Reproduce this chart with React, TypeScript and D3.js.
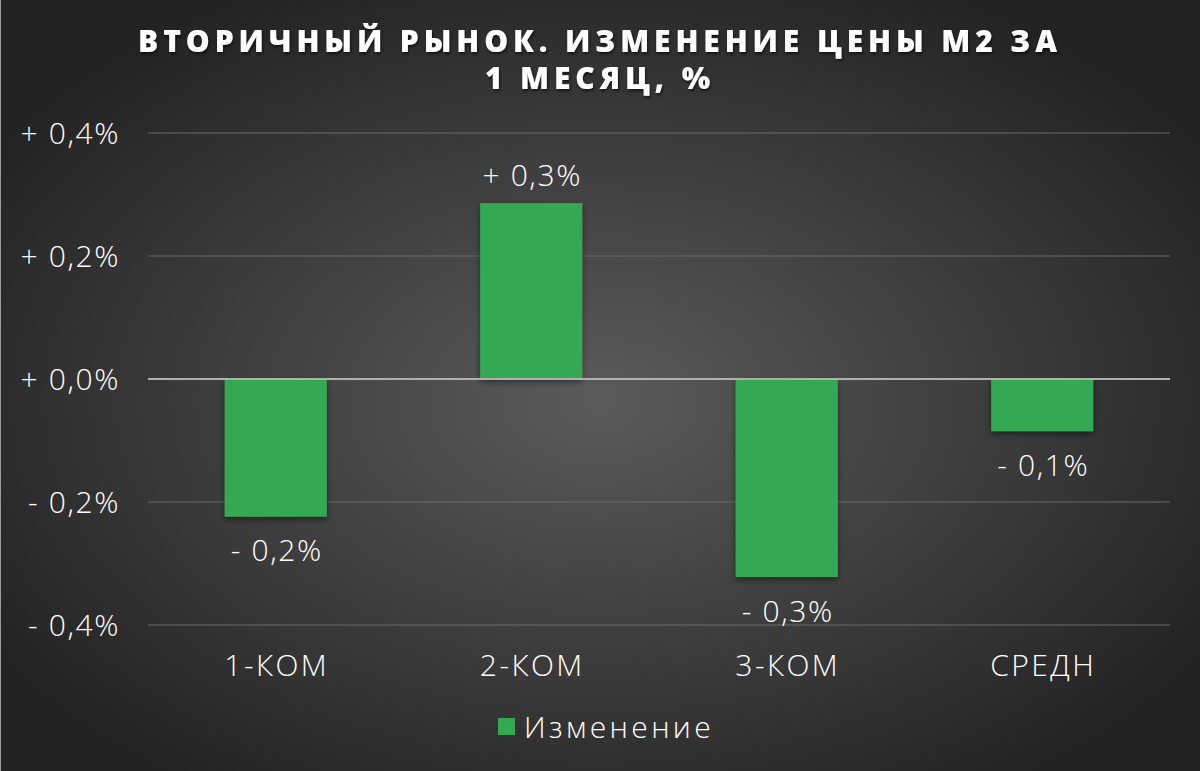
import React from "react";
import * as d3 from "d3";

const categories = ["1-КОМ", "2-КОМ", "3-КОМ", "СРЕДН"];
const changeValues = [-0.224, 0.286, -0.322, -0.085];
const valueLabels = ["- 0,2%", "+ 0,3%", "- 0,3%", "- 0,1%"];
const yTicks = [0.4, 0.2, 0, -0.2, -0.4];
const yTickLabels = ["+ 0,4%", "+ 0,2%", "+ 0,0%", "- 0,2%", "- 0,4%"];
const titleLines = ["ВТОРИЧНЫЙ РЫНОК. ИЗМЕНЕНИЕ ЦЕНЫ М2 ЗА", "1 МЕСЯЦ, %"];
const seriesName = "Изменение";

const width = 1200;
const height = 771;
const barColor = "#34a853";
const font = "'Open Sans', sans-serif";

const App: React.FC = () => {
  const x = d3
    .scaleBand<string>()
    .domain(categories)
    .range([148, 1170])
    .paddingInner(0.6)
    .paddingOuter(0.3);

  const y = d3.scaleLinear().domain([-0.4, 0.4]).range([625, 133]);

  // shared style for the light labels
  const label = {
    fill: "#ffffff",
    fontFamily: font,
    fontWeight: 300,
    fontSize: 30,
  };

  return (
    <svg
      width={width}
      height={height}
      style={{ display: "block", position: "absolute", left: 0, top: 0 }}
    >
      <defs>
        <radialGradient id="bg" cx="50%" cy="52%" r="60%">
          <stop offset="0%" stopColor="#5b5b5b" />
          <stop offset="100%" stopColor="#232323" />
        </radialGradient>
        <filter id="shadow" x="-20%" y="-20%" width="140%" height="140%">
          <feDropShadow dx="0" dy="3" stdDeviation="3" floodColor="#000" floodOpacity="0.45" />
        </filter>
        <filter id="tshadow" x="-5%" y="-30%" width="110%" height="160%">
          <feDropShadow dx="1" dy="2" stdDeviation="1.5" floodColor="#000" floodOpacity="0.6" />
        </filter>
      </defs>
      <rect width={width} height={height} fill="url(#bg)" />
      <line x1={0.5} x2={0.5} y1={0} y2={height} stroke="#9a9a9a" strokeWidth={1} />

      {/* title */}
      <g filter="url(#tshadow)">
        {titleLines.map((t, i) => (
          <text
            key={t}
            x={600}
            y={52 + i * 37}
            textAnchor="middle"
            fill="#ffffff"
            fontFamily={font}
            fontWeight={800}
            fontSize={30}
            letterSpacing={4.9}
          >
            {t}
          </text>
        ))}
      </g>

      {/* gridlines + y labels */}
      {yTicks.map((t, i) => (
        <g key={t}>
          {t !== 0 && (
            <line x1={148} x2={1170} y1={y(t)} y2={y(t)} stroke="#6a6a6a" strokeWidth={1} />
          )}
          <text x={120} y={y(t)} dy="0.35em" textAnchor="end" letterSpacing={1.6} {...label}>
            {yTickLabels[i]}
          </text>
        </g>
      ))}

      {/* bars */}
      <g filter="url(#shadow)">
        {categories.map((c, i) => {
          const v = changeValues[i];
          return (
            <rect
              key={c}
              x={x(c)}
              width={x.bandwidth()}
              y={y(Math.max(0, v))}
              height={Math.abs(y(v) - y(0))}
              fill={barColor}
            />
          );
        })}
      </g>

      {/* zero line */}
      <line x1={148} x2={1170} y1={y(0)} y2={y(0)} stroke="#b0b0b0" strokeWidth={2} />

      {/* value labels */}
      {categories.map((c, i) => {
        const v = changeValues[i];
        const cx = (x(c) ?? 0) + x.bandwidth() / 2 + 1;
        const ly = v >= 0 ? y(v) - 28 : y(v) + 34;
        return (
          <text key={c} x={cx} y={ly} dy="0.35em" textAnchor="middle" letterSpacing={1.6} {...label}>
            {valueLabels[i]}
          </text>
        );
      })}

      {/* category labels */}
      {categories.map((c) => (
        <text
          key={c}
          x={(x(c) ?? 0) + x.bandwidth() / 2 + 1}
          y={665}
          dy="0.35em"
          textAnchor="middle"
          letterSpacing={2.4}
          {...label}
        >
          {c}
        </text>
      ))}

      {/* legend */}
      <rect x={498} y={718} width={17} height={17} fill={barColor} />
      <text x={524} y={727} dy="0.35em" letterSpacing={3.4} {...label}>
        {seriesName}
      </text>
    </svg>
  );
};

export default App;
